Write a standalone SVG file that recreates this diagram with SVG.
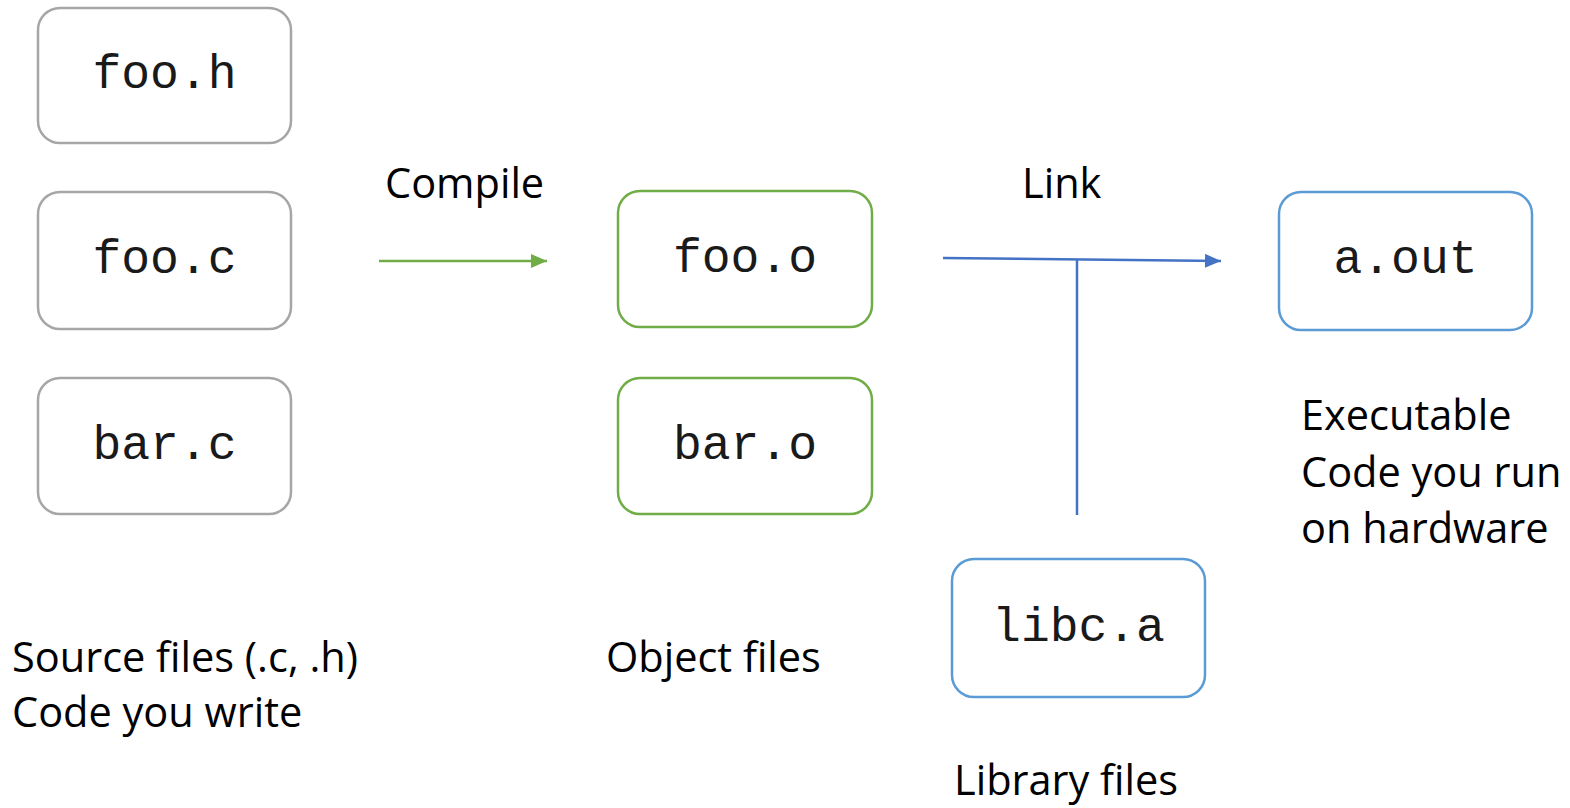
<svg xmlns="http://www.w3.org/2000/svg" width="1570" height="808" viewBox="0 0 1570 808">
  <style>
    .box { fill: #ffffff; stroke-width: 2.5; }
    .src { stroke: #A6A6A6; }
    .obj { stroke: #70AD47; }
    .bin { stroke: #5B9BD5; }
    .code { font-family: "Liberation Mono", "Courier New", monospace; font-size: 48px; fill: #1a1a1a; text-anchor: middle; }
    .lbl { font-family: "Open Sans", "Noto Sans", sans-serif; font-size: 41.5px; fill: #000; }
  </style>
  <defs>
    <marker id="arrGreen" viewBox="0 0 10 10" refX="10" refY="5" markerWidth="16" markerHeight="14" markerUnits="userSpaceOnUse" orient="auto" preserveAspectRatio="none">
      <path d="M0,0 L10,5 L0,10 z" fill="#70AD47"/>
    </marker>
    <marker id="arrBlue" viewBox="0 0 10 10" refX="10" refY="5" markerWidth="16" markerHeight="14" markerUnits="userSpaceOnUse" orient="auto" preserveAspectRatio="none">
      <path d="M0,0 L10,5 L0,10 z" fill="#4472C4"/>
    </marker>
  </defs>

  <g id="connectors">
    <line x1="379" y1="261" x2="547" y2="261" stroke="#70AD47" stroke-width="2.5" marker-end="url(#arrGreen)"/>
    <line x1="943" y1="258" x2="1221" y2="261" stroke="#4472C4" stroke-width="2.5" marker-end="url(#arrBlue)"/>
    <line x1="1077" y1="260" x2="1077" y2="515" stroke="#4472C4" stroke-width="2.5"/>
  </g>

  <g id="foo_h">
    <rect class="box src" x="38" y="8" width="253" height="135" rx="22"/>
    <text class="code" x="164.5" y="88">foo.h</text>
  </g>
  <g id="foo_c">
    <rect class="box src" x="38" y="192" width="253" height="137" rx="22"/>
    <text class="code" x="164.5" y="273">foo.c</text>
  </g>
  <g id="bar_c">
    <rect class="box src" x="38" y="378" width="253" height="136" rx="22"/>
    <text class="code" x="164.5" y="459">bar.c</text>
  </g>
  <g id="foo_o">
    <rect class="box obj" x="618" y="191" width="254" height="136" rx="22"/>
    <text class="code" x="745" y="272">foo.o</text>
  </g>
  <g id="bar_o">
    <rect class="box obj" x="618" y="378" width="254" height="136" rx="22"/>
    <text class="code" x="745" y="459">bar.o</text>
  </g>
  <g id="a_out">
    <rect class="box bin" x="1279" y="192" width="253" height="138" rx="22"/>
    <text class="code" x="1405.5" y="273">a.out</text>
  </g>
  <g id="libc_a">
    <rect class="box bin" x="952" y="559" width="253" height="138" rx="22"/>
    <text class="code" x="1078.5" y="641">libc.a</text>
  </g>

  <g id="labels">
    <text class="lbl" x="385" y="198">Compile</text>
    <text class="lbl" x="1022" y="198">Link</text>
    <text class="lbl" x="12" y="672">Source files (.c, .h)</text>
    <text class="lbl" x="12" y="727">Code you write</text>
    <text class="lbl" x="606" y="672">Object files</text>
    <text class="lbl" x="954" y="795">Library files</text>
    <text class="lbl" x="1301" y="430">Executable</text>
    <text class="lbl" x="1301" y="487">Code you run</text>
    <text class="lbl" x="1301" y="543">on hardware</text>
  </g>
</svg>
